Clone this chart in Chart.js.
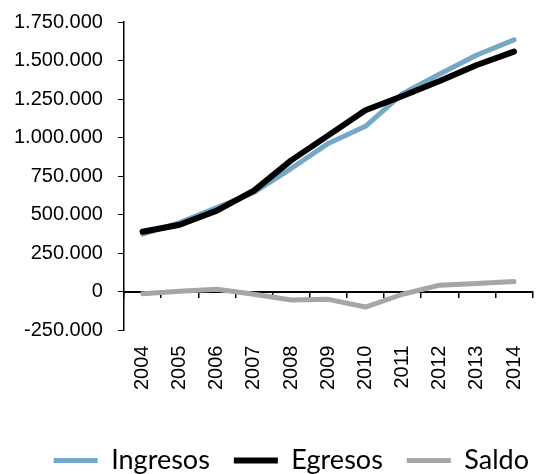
<!DOCTYPE html>
<html>
<head>
<meta charset="utf-8">
<script src="https://cdn.jsdelivr.net/npm/chart.js@4"></script>
<style>
  html, body { margin: 0; padding: 0; background: #fff; overflow: hidden; }
  #wrap { width: 553px; height: 474px; }
</style>
</head>
<body>
<div id="wrap"><canvas id="chart"></canvas></div>
<script>
var years = ['2004', '2005', '2006', '2007', '2008', '2009', '2010', '2011', '2012', '2013', '2014'];
var ingresos = [375000, 450000, 547000, 645000, 800000, 963000, 1074000, 1285000, 1413000, 1536000, 1634000];
var egresos = [390000, 436000, 527000, 657000, 853000, 1015000, 1178000, 1270000, 1367000, 1471000, 1558000];
var saldo = [-11000, 5000, 18000, -15000, -52000, -48000, -98000, -15000, 44000, 54000, 67000];

function fmt(v) {
    var s = Math.abs(v).toString().replace(/\B(?=(\d{3})+(?!\d))/g, '.');
    return (v < 0 ? '-' : '') + s;
}

var config = {
    type: 'line',
    data: {
        labels: years,
        datasets: [
            { label: 'Ingresos', data: ingresos, borderColor: '#74A8C6', backgroundColor: '#74A8C6', borderWidth: 5, order: 1 },
            { label: 'Egresos', data: egresos, borderColor: '#000000', backgroundColor: '#000000', borderWidth: 6, order: 0 },
            { label: 'Saldo', data: saldo, borderColor: '#A6A6A8', backgroundColor: '#A6A6A8', borderWidth: 5, order: 2 }
        ]
    },
    options: {
        responsive: true,
        maintainAspectRatio: false,
        animation: false,
        layout: { padding: { left: -1, top: 6, right: 0, bottom: -10 } },
        elements: {
            point: { radius: 0 },
            line: { tension: 0, borderCapStyle: 'round', borderJoinStyle: 'round' }
        },
        plugins: {
            tooltip: { enabled: false },
            legend: {
                position: 'bottom',
                align: 'end',
                labels: {
                    usePointStyle: true,
                    pointStyle: 'line',
                    pointStyleWidth: 44,
                    padding: 24,
                    color: '#000',
                    font: { family: 'Lato', size: 27 },
                    sort: function (a, b) { return a.datasetIndex - b.datasetIndex; }
                }
            }
        },
        scales: {
            x: {
                offset: true,
                grid: { display: false, drawTicks: false },
                border: { display: false },
                ticks: {
                    autoSkip: false,
                    minRotation: 90,
                    maxRotation: 90,
                    padding: 15,
                    color: '#000',
                    font: { family: 'Liberation Sans', size: 20 }
                },
                afterFit: function (scale) { scale.height += 18; }
            },
            x2: {
                type: 'category',
                position: { y: 0 },
                offset: true,
                grid: { offset: true, drawOnChartArea: false, tickLength: 5, color: '#000', lineWidth: 1.5 },
                border: { display: true, color: '#000', width: 2 },
                ticks: { display: false }
            },
            y: {
                min: -250000,
                max: 1750000,
                grid: { drawOnChartArea: false, tickLength: 6, color: '#000' },
                border: { display: true, color: '#000', width: 1.5 },
                ticks: {
                    stepSize: 250000,
                    padding: 15,
                    color: '#000',
                    font: { family: 'Liberation Sans', size: 20 },
                    callback: function (v) { return fmt(v); }
                },
                afterFit: function (scale) { scale.paddingTop = 22; }
            }
        }
    }
};

new Chart(document.getElementById('chart'), config);
</script>
</body>
</html>
